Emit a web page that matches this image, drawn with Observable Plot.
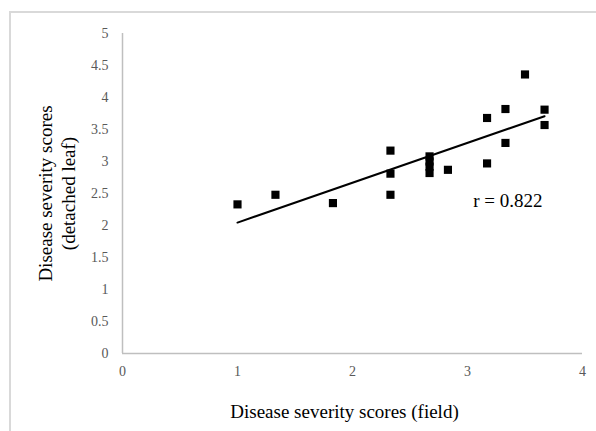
<!DOCTYPE html>
<html>
<head>
<meta charset="utf-8">
<script src="https://cdn.jsdelivr.net/npm/d3@7"></script>
<script src="https://cdn.jsdelivr.net/npm/@observablehq/plot@0.6"></script>
<style>
  html, body { margin: 0; padding: 0; background: #fff; }
  #wrap { position: relative; width: 596px; height: 431px; overflow: hidden; }
  #border { position: absolute; left: 9px; top: 11px; right: -10px; bottom: -10px;
            border-top: 2px solid #d9d9d9; border-left: 2px solid #d9d9d9; }
  #chart { position: absolute; left: 0; top: 0; }
</style>
</head>
<body>
<div id="wrap"><div id="border"></div><div id="chart"></div></div>
<script>
const fieldScores = [1.0, 1.33, 1.83, 2.33, 2.33, 2.33, 2.67, 2.67, 2.67, 2.67, 2.83, 3.17, 3.17, 3.33, 3.33, 3.5, 3.67, 3.67];
const leafScores  = [2.33, 2.48, 2.35, 3.17, 2.81, 2.48, 3.08, 3.0, 2.92, 2.82, 2.87, 3.68, 2.97, 3.82, 3.29, 4.36, 3.81, 3.57];
const xTicks = [0, 1, 2, 3, 4];
const yTicks = [0, 0.5, 1, 1.5, 2, 2.5, 3, 3.5, 4, 4.5, 5];
const xTitle = "Disease severity scores (field)";
const yTitleLines = ["Disease severity scores", "(detached leaf)"];
const annotation = [{x: 3.05, y: 2.39, label: "r = 0.822"}];

const data = fieldScores.map((x, i) => ({x, y: leafScores[i]}));
const font = "'Liberation Serif', 'Times New Roman', serif";

const chart = Plot.plot({
  width: 596,
  height: 431,
  marginLeft: 122,
  marginRight: 14,
  marginTop: 33,
  marginBottom: 78,
  style: {fontFamily: font, background: "transparent"},
  x: {domain: [0, 4]},
  y: {domain: [0, 5]},
  marks: [
    Plot.axisX({ticks: xTicks, tickSize: 0, tickPadding: 13, label: null, tickFormat: d => String(d),
                fontSize: 14, fill: "#595959", fontFamily: font}),
    Plot.axisY({ticks: yTicks, tickSize: 0, tickPadding: 14, label: null, tickFormat: d => String(d),
                fontSize: 14, fill: "#595959", fontFamily: font}),
    Plot.ruleY([0], {stroke: "#bfbfbf", strokeWidth: 1.5}),
    Plot.ruleX([0], {stroke: "#bfbfbf", strokeWidth: 1.5}),
    Plot.linearRegressionY(data, {x: "x", y: "y", ci: 0, stroke: "black", strokeWidth: 2}),
    Plot.dot(data, {x: "x", y: "y", symbol: "square", fill: "black", stroke: "none", r: 4.6}),
    Plot.text(annotation, {x: "x", y: "y", text: "label", textAnchor: "start", fill: "black", fontSize: 19, fontFamily: font}),
    Plot.text([xTitle], {frameAnchor: "bottom", textAnchor: "middle", lineAnchor: "middle", dy: 58, dx: -8, fill: "black", fontSize: 19, fontFamily: font}),
    Plot.text([yTitleLines[0]], {frameAnchor: "left", textAnchor: "middle", lineAnchor: "middle", rotate: -90, dx: -77, fill: "black", fontSize: 19, fontFamily: font}),
    Plot.text([yTitleLines[1]], {frameAnchor: "left", textAnchor: "middle", lineAnchor: "middle", rotate: -90, dx: -54, fill: "black", fontSize: 19, fontFamily: font})
  ]
});
document.getElementById("chart").appendChild(chart);
</script>
</body>
</html>
